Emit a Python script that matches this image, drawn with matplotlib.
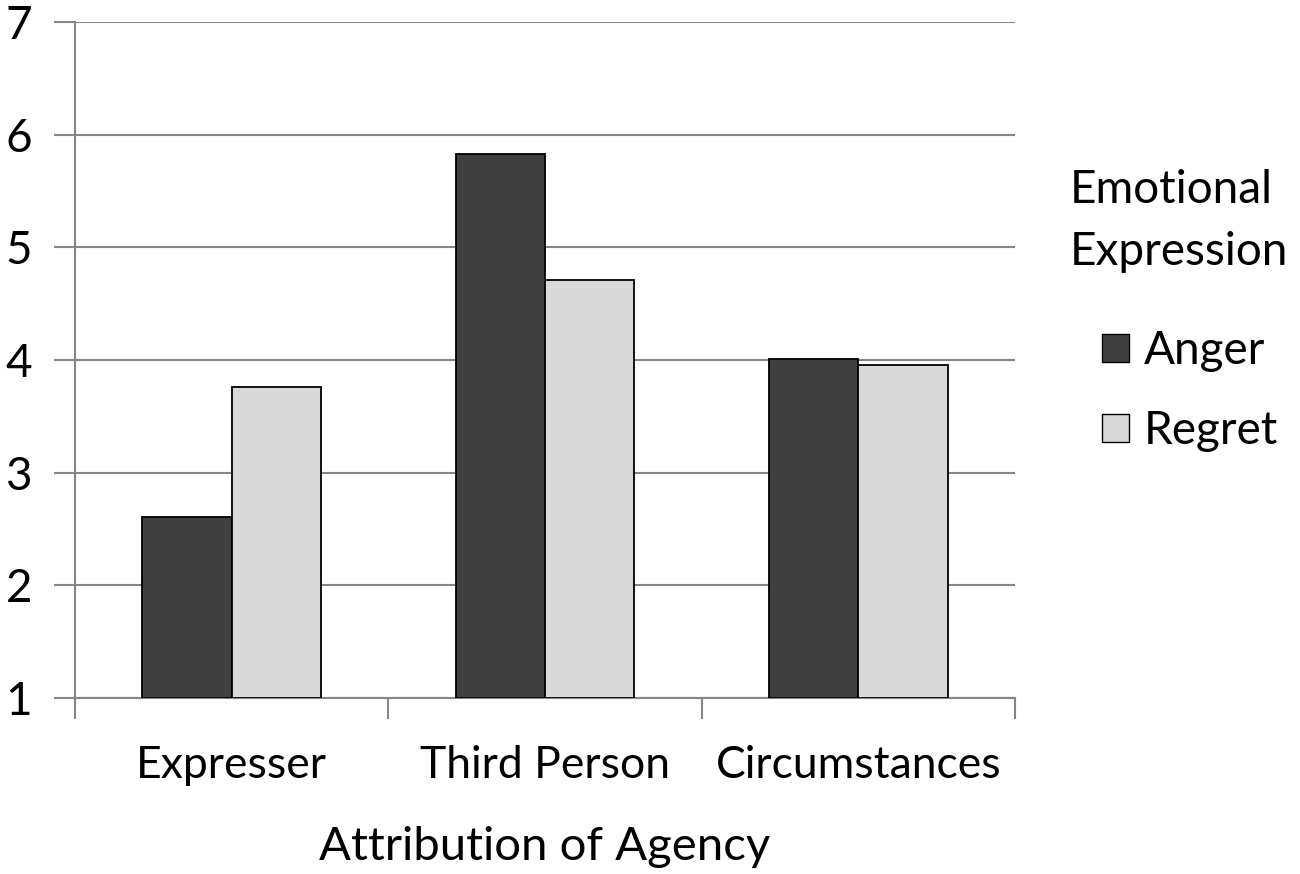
import numpy as np
import matplotlib.pyplot as plt
from matplotlib.patches import Patch

categories = ['Expresser', 'Third Person', 'Circumstances']
anger = [2.61, 5.83, 4.01]
regret = [3.76, 4.71, 3.96]

plt.rcParams['font.family'] = ['Lato', 'DejaVu Sans']

fig = plt.figure(figsize=(13, 8.74), dpi=100)
ax = fig.add_axes([0.0577, 0.2014, 0.7231, 0.7734])

x = np.arange(len(categories))
w = 0.285
base = 1
ax.bar(x - w/2, np.array(anger) - base, w, bottom=base, color='#404040',
       edgecolor='black', linewidth=1.3, zorder=3, label='Anger')
ax.bar(x + w/2, np.array(regret) - base, w, bottom=base, color='#d9d9d9',
       edgecolor='black', linewidth=1.3, zorder=3, label='Regret')

ax.set_xlim(-0.5, 2.5)
ax.set_ylim(1, 7)
ax.set_yticks(range(1, 8))
ax.yaxis.grid(True, color='#868686', linewidth=1.5, zorder=0)
ax.tick_params(axis='y', length=15, width=1.5, color='#868686', pad=16,
               labelsize=33, direction='out')

ax.set_xticks(x)
ax.set_xticklabels(categories)
ax.set_xticks([-0.5, 0.5, 1.5, 2.5], minor=True)
ax.tick_params(axis='x', which='major', length=0, pad=33.5, labelsize=32)
ax.tick_params(axis='x', which='minor', length=15, width=1.5, color='#868686')

for s in ['top', 'right']:
    ax.spines[s].set_visible(False)
for s in ['left', 'bottom']:
    ax.spines[s].set_color('#868686')
    ax.spines[s].set_linewidth(1.5)

ax.set_xlabel('Attribution of Agency', fontsize=34, labelpad=29.5)

fig.text(0.823, 0.807, 'Emotional\nExpression', fontsize=33, ha='left',
         va='top', linespacing=1.6)
handles = [Patch(facecolor='#404040', edgecolor='black', linewidth=1.0),
           Patch(facecolor='#d9d9d9', edgecolor='black', linewidth=1.0)]
fig.legend(handles, ['Anger', 'Regret'], loc='upper left',
           bbox_to_anchor=(0.848, 0.622), frameon=False, fontsize=33,
           handlelength=0.57, handleheight=0.57, handletextpad=0.33,
           labelspacing=0.82, borderaxespad=0, borderpad=0)

plt.savefig('out.png')
